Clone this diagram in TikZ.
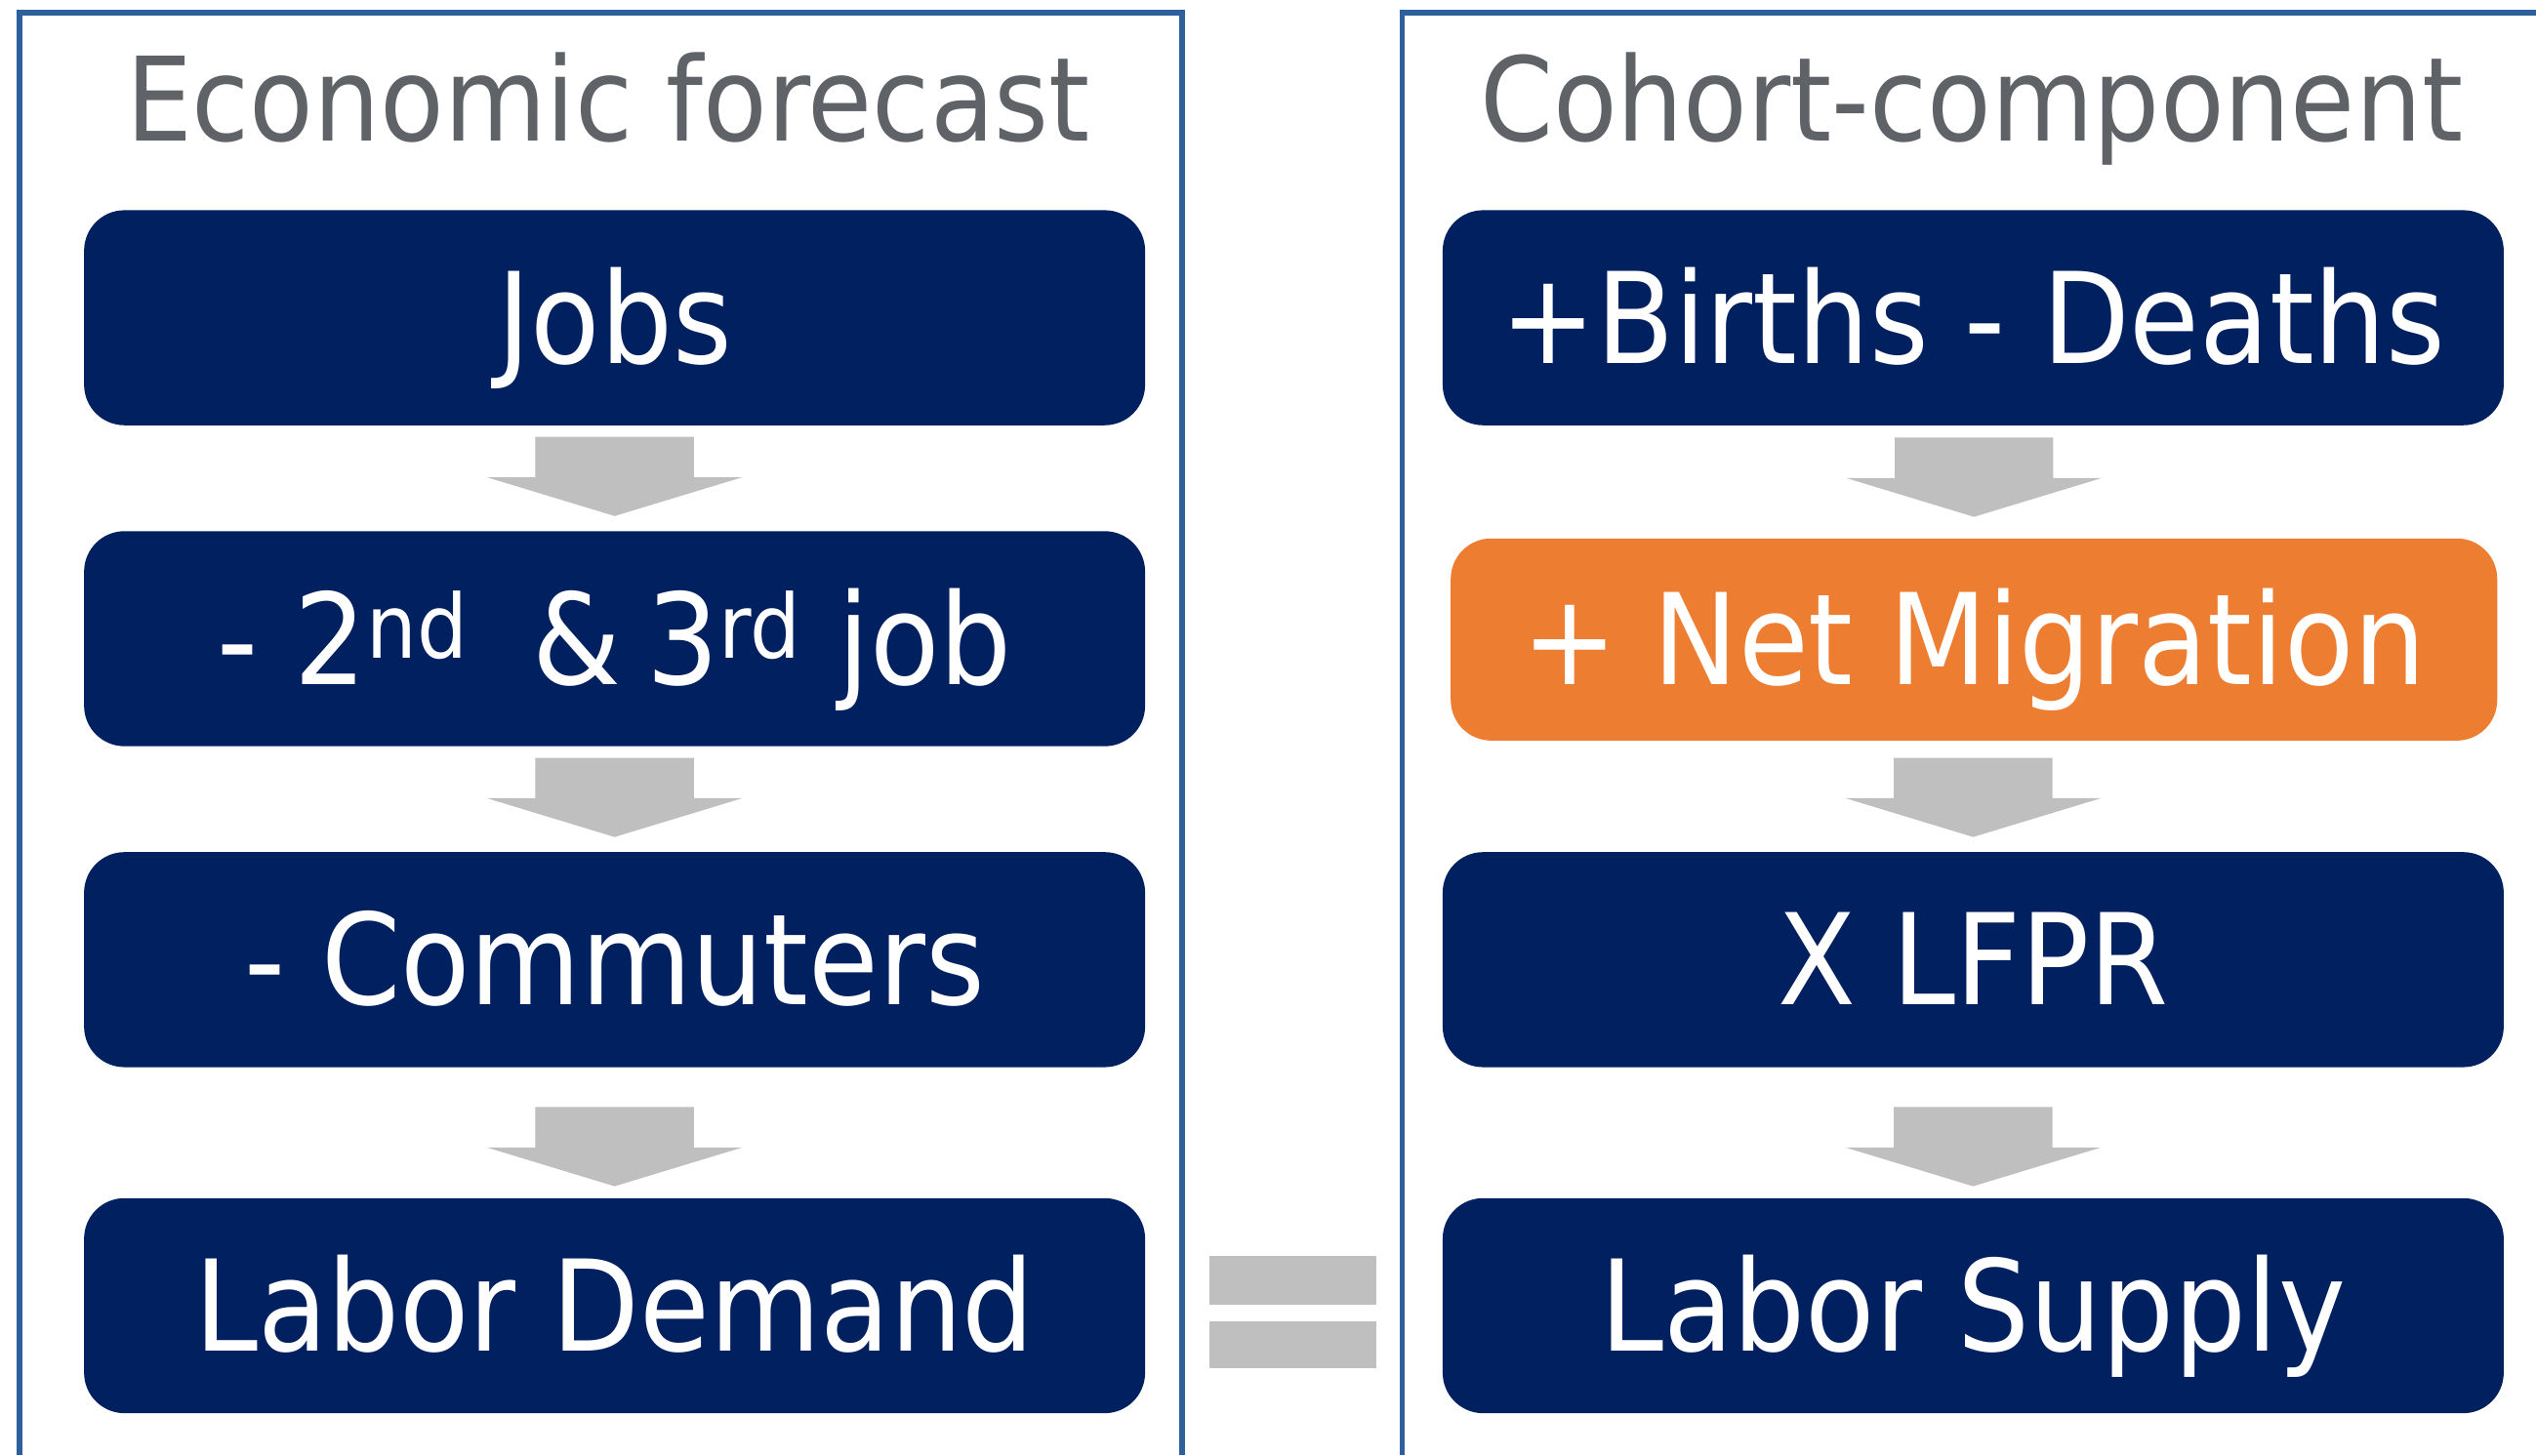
\documentclass[tikz,border=0pt]{standalone}
\usepackage{fontspec}
\setmainfont{DejaVu Sans Condensed}
\usepackage{tikz}
\usetikzlibrary{calc}
\definecolor{navy}{RGB}{0,32,96}
\definecolor{migorange}{RGB}{237,125,49}
\definecolor{arrowgray}{RGB}{191,191,191}
\definecolor{titlegray}{RGB}{95,99,104}
\definecolor{frameblue}{RGB}{46,96,158}
\newcommand{\boxfont}{\fontsize{44.5}{48}\selectfont}
\newcommand{\titlefont}{\fontsize{41}{44}\selectfont}
\tikzset{flowbox/.style={fill=navy, text=white, rounded corners=5mm,
    minimum width=131.2mm, minimum height=26.6mm, inner sep=0pt,
    text height=32pt, text depth=0pt, font=\boxfont}}
\tikzset{titletext/.style={text=titlegray, font=\titlefont, inner sep=0pt}}
\tikzset{frameline/.style={frameblue, line width=2pt}}

\begin{document}
\begin{tikzpicture}[x=0.2mm, y=-0.2mm]
\useasboundingbox (0,0) rectangle (1568,900);

% the two panels
\draw[frameline] (12,900) -- (12,8) -- (731,8) -- (731,900);
\draw[frameline] (867,900) -- (867,8) -- (1568,8);

\node[titletext, anchor=base] (ectitle) at (376,87) {Economic forecast};
\node[titletext, anchor=base] (cctitle) at (1219,87) {Cohort-component};

% left column
\node[flowbox] (jobs) at (380,196.5) {Jobs};
\node[flowbox] (second) at (380,395) {- 2\textsuperscript{nd}\hspace{0.5em}\&\hspace{0.2em}3\textsuperscript{rd} job};
\node[flowbox] (commuters) at (380,593.5) {- Commuters};
\node[flowbox] (demand) at (380,807.5) {Labor Demand};

% right column
\node[flowbox] (births) at (1220,196.5) {+Births\ - Deaths};
\node[flowbox, fill=migorange, minimum width=129.4mm, minimum height=25mm] (migration) at (1220.5,395.5) {+ Net Migration};
\node[flowbox] (lfpr) at (1220,593.5) {X LFPR};
\node[flowbox] (supply) at (1220,807.5) {Labor Supply};

\foreach \a/\b/\g in {jobs/second/9, second/commuters/9, commuters/demand/7,
                      births/migration/13, migration/lfpr/9, lfpr/supply/7}
         {
           \fill[arrowgray] ($(\b.north)+(0,-\g)$) -- ++(79,-24) -- ++(-30,0) -- ++(0,-25)
               -- ++(-98,0) -- ++(0,25) -- ++(-30,0) -- cycle;
         }

% equals sign
\fill[arrowgray] (748,777) rectangle (851,807);
\fill[arrowgray] (748,817) rectangle (851,846);

\end{tikzpicture}
\end{document}
